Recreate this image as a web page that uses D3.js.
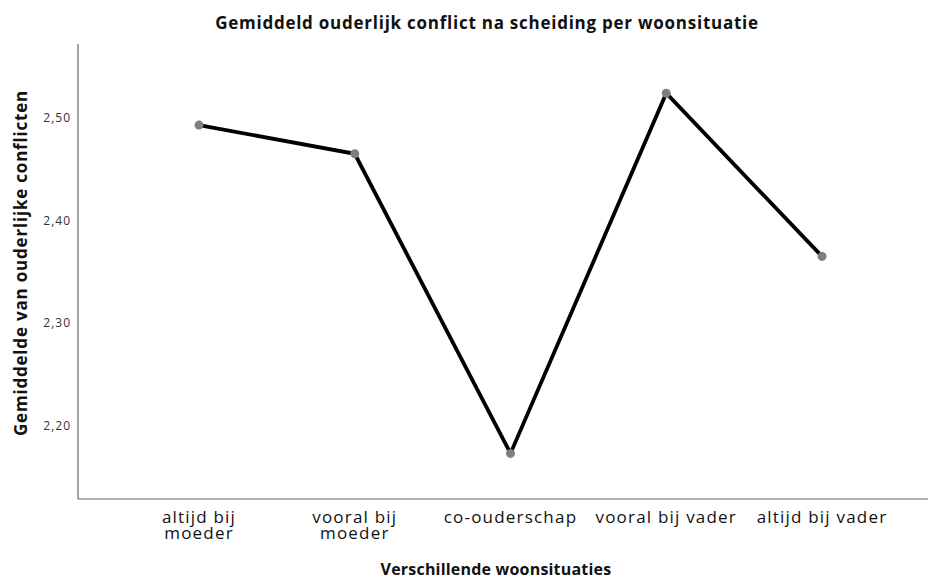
<!DOCTYPE html>
<html><head><meta charset="utf-8">
<script src="https://cdn.jsdelivr.net/npm/d3@7"></script>
<style>body{margin:0;background:#fff}svg{display:block}text{font-family:"Open Sans","DejaVu Sans",sans-serif}</style>
</head><body>
<svg id="c" width="928" height="579"></svg>
<script>
const categories = [["altijd bij","moeder"],["vooral bij","moeder"],["co-ouderschap"],["vooral bij vader"],["altijd bij vader"]];
const values = [2.493, 2.465, 2.173, 2.524, 2.365];
const yTicks = [2.20, 2.30, 2.40, 2.50];
const title = "Gemiddeld ouderlijk conflict na scheiding per woonsituatie";
const xTitle = "Verschillende woonsituaties";
const yTitle = "Gemiddelde van ouderlijke conflicten";

(function(){
const svg = d3.select("#c");
const mLeft = 78, mRight = 928, mTop = 44, mBottom = 499;
const x = d3.scalePoint().domain(d3.range(categories.length)).range([199, 822]);
const y = d3.scaleLinear().domain([2.1286, 2.572]).range([mBottom, mTop]);

svg.append("text").attr("x", 487).attr("y", 29).attr("text-anchor","middle")
  .attr("font-size", 17).attr("letter-spacing", 0.75).attr("font-weight","bold").attr("fill","#111").text(title);

svg.append("line").attr("x1", mLeft).attr("x2", mLeft).attr("y1", mTop).attr("y2", mBottom).attr("stroke","#666").attr("stroke-width",1.2);
svg.append("line").attr("x1", mLeft).attr("x2", mRight).attr("y1", mBottom).attr("y2", mBottom).attr("stroke","#666").attr("stroke-width",1.2);

const fmt = d => d.toFixed(2).replace(".", ",");
svg.append("g").selectAll("text").data(yTicks).join("text")
  .attr("x", 71).attr("y", d => y(d)).attr("dy","0.35em").attr("text-anchor","end")
  .attr("font-size", 12).attr("letter-spacing", 1).attr("fill","#333").text(fmt);

const xl = svg.append("g").selectAll("text").data(categories).join("text")
  .attr("x", (d,i) => x(i)).attr("y", 523).attr("text-anchor","middle")
  .attr("font-size", 17).attr("letter-spacing", 1.2).attr("fill","#111");
xl.selectAll("tspan").data(d => d).join("tspan")
  .attr("x", function(){ return d3.select(this.parentNode).attr("x"); })
  .attr("dy", (d,i) => i === 0 ? 0 : 16).text(d => d);

svg.append("text").attr("x", 496).attr("y", 575).attr("text-anchor","middle")
  .attr("font-size", 16).attr("letter-spacing", 0.2).attr("font-weight","bold").attr("fill","#111").text(xTitle);
svg.append("text").attr("transform","translate(27,263) rotate(-90)").attr("text-anchor","middle")
  .attr("font-size", 17).attr("letter-spacing", 0.8).attr("font-weight","bold").attr("fill","#111").text(yTitle);

const line = d3.line().x((d,i) => x(i)).y(d => y(d));
svg.append("path").datum(values).attr("d", line).attr("fill","none")
  .attr("stroke","#000").attr("stroke-width",3.8).attr("stroke-linejoin","miter");
svg.append("g").selectAll("circle").data(values).join("circle")
  .attr("cx",(d,i)=>x(i)).attr("cy", d=>y(d)).attr("r",4.5).attr("fill","#7f7f7f");
})();
</script>
</body></html>
